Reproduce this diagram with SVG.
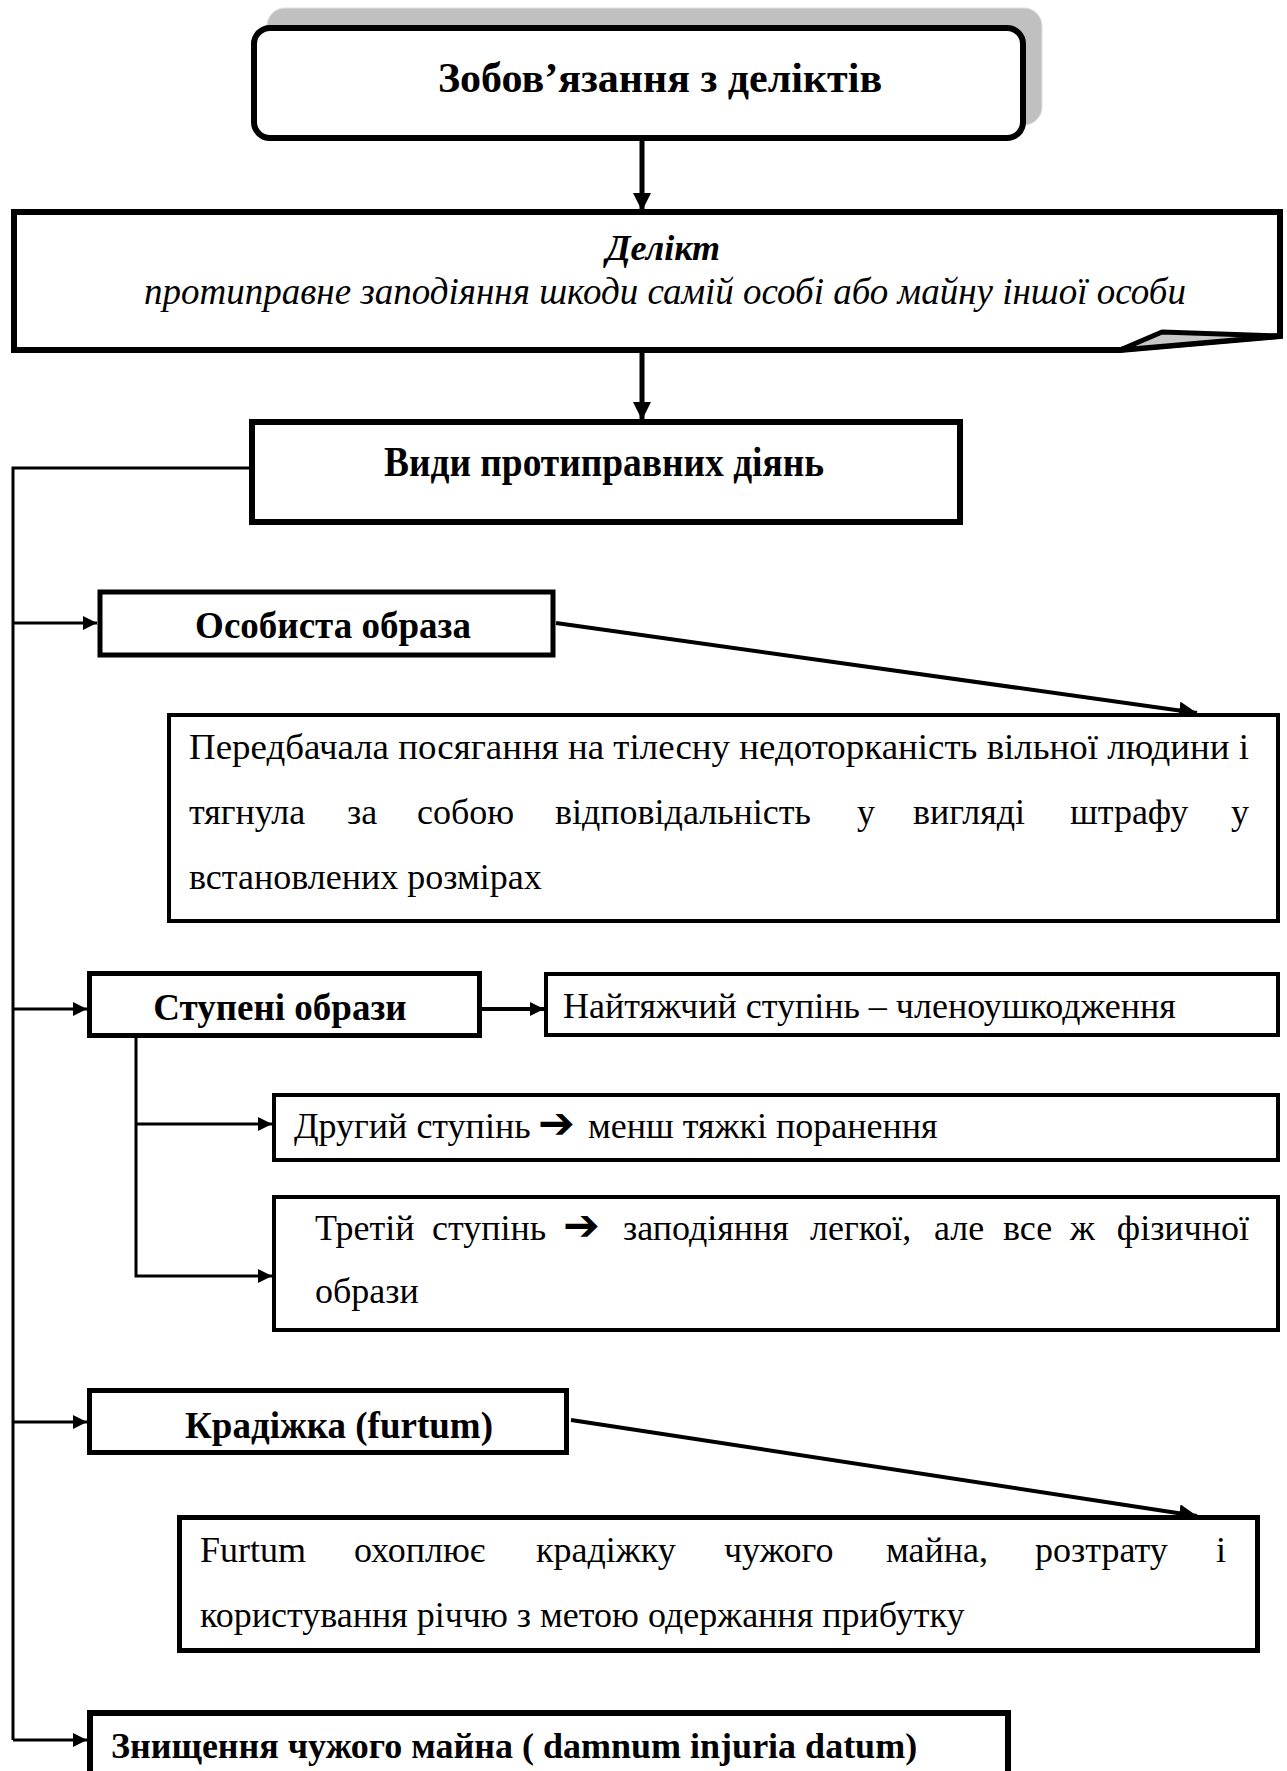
<svg xmlns="http://www.w3.org/2000/svg" width="1287" height="1771" viewBox="0 0 1287 1771">
<style>
text{font-family:"Liberation Serif","Times New Roman",serif;fill:#000}
.b{font-weight:bold}
.i{font-style:italic}
.t36{font-size:36px}
.t37{font-size:37px}
.t42{font-size:42px}
.box{fill:#fff;stroke:#000}
.ln{fill:none;stroke:#000;stroke-width:3}
.ar{font-family:"DejaVu Sans",sans-serif;font-weight:bold;font-size:44px}
</style>
<defs>
<marker id="ah" markerUnits="userSpaceOnUse" viewBox="0 0 14 14" refX="14" refY="7" markerWidth="14" markerHeight="14" orient="auto">
<path d="M0,0 L14,7 L0,14 Z" fill="#000"/>
</marker>
<marker id="ahb" markerUnits="userSpaceOnUse" viewBox="0 0 18 18" refX="18" refY="9" markerWidth="18" markerHeight="18" orient="auto">
<path d="M0,0 L18,9 L0,18 Z" fill="#000"/>
</marker>
</defs>

<g id="connectors">
<line x1="642" y1="140" x2="642" y2="211" stroke="#000" stroke-width="5" marker-end="url(#ahb)"/>
<line x1="642" y1="352" x2="642" y2="420" stroke="#000" stroke-width="5" marker-end="url(#ahb)"/>
<path class="ln" d="M251,468 H13 V1740"/>
<line class="ln" x1="13" y1="623" x2="97" y2="623" marker-end="url(#ah)"/>
<line class="ln" x1="13" y1="1009" x2="87" y2="1009" marker-end="url(#ah)"/>
<line class="ln" x1="13" y1="1422" x2="87" y2="1422" marker-end="url(#ah)"/>
<line class="ln" x1="13" y1="1740" x2="87" y2="1740" marker-end="url(#ah)"/>
<line x1="482" y1="1009" x2="544" y2="1009" stroke="#000" stroke-width="4" marker-end="url(#ah)"/>
<path class="ln" d="M136,1037 V1276 H272" marker-end="url(#ah)"/>
<line class="ln" x1="136" y1="1124" x2="272" y2="1124" marker-end="url(#ah)"/>
<line x1="556" y1="623" x2="1197" y2="713" stroke="#000" stroke-width="4" marker-end="url(#ahb)"/>
<line x1="571" y1="1420" x2="1197" y2="1516" stroke="#000" stroke-width="4" marker-end="url(#ahb)"/>
</g>

<g id="node-title">
<rect x="267" y="8" width="775" height="117" rx="18" fill="#c0c0c0" stroke="#e0e0e0" stroke-width="1"/>
<rect class="box" x="254" y="28" width="769" height="110" rx="16" stroke-width="6"/>
<text class="b t42" x="660" y="92" text-anchor="middle">Зобов’язання з деліктів</text>
</g>

<g id="node-delict">
<path class="box" d="M14,212 H1280 V336 L1120,350 H14 Z" stroke-width="6" stroke-linejoin="miter"/>
<path d="M1120,350 L1162,332 L1280,336 Z" fill="#c8c8c8" stroke="#000" stroke-width="5" stroke-linejoin="round"/>
<text class="b i t36" x="663" y="260" text-anchor="middle">Делікт</text>
<text class="i t37" x="665" y="304" text-anchor="middle">протиправне заподіяння шкоди самій особі або майну іншої особи</text>
</g>

<g id="node-types">
<rect class="box" x="252" y="422" width="708" height="100" stroke-width="6"/>
<text class="b t42" x="384" y="476" textLength="440" lengthAdjust="spacingAndGlyphs">Види  протиправних діянь</text>
</g>

<g id="node-personal">
<rect class="box" x="100" y="592" width="453" height="63" stroke-width="5"/>
<text class="b t37" x="333" y="638" text-anchor="middle">Особиста образа</text>
</g>

<g id="node-personal-desc">
<rect class="box" x="169" y="715" width="1109" height="206" stroke-width="4"/>
<text class="t36" x="189" y="759" textLength="1060" lengthAdjust="spacingAndGlyphs">Передбачала посягання на тілесну недоторканість вільної людини і</text>
<text class="t36" y="824"><tspan x="189">тягнула</tspan><tspan x="347">за</tspan><tspan x="417">собою</tspan><tspan x="555">відповідальність</tspan><tspan x="857">у</tspan><tspan x="913">вигляді</tspan><tspan x="1070">штрафу</tspan><tspan x="1249" text-anchor="end">у</tspan></text>
<text class="t36" x="189" y="889">встановлених розмірах</text>
</g>

<g id="node-degrees">
<rect class="box" x="89.5" y="973.5" width="390" height="62" stroke-width="5"/>
<text class="b t37" x="280" y="1020" text-anchor="middle">Ступені образи</text>
</g>

<g id="node-degree1">
<rect class="box" x="546" y="974" width="732" height="61" stroke-width="4"/>
<text class="t36" x="563" y="1018">Найтяжчий ступінь – членоушкодження</text>
</g>

<g id="node-degree2">
<rect class="box" x="274" y="1095" width="1004" height="65" stroke-width="4"/>
<text class="t36" y="1138"><tspan x="294">Другий ступінь</tspan><tspan x="538" class="ar">➔</tspan><tspan x="588">менш тяжкі поранення</tspan></text>
</g>

<g id="node-degree3">
<rect class="box" x="274" y="1197" width="1004" height="133" stroke-width="4"/>
<text class="t36" y="1240"><tspan x="315">Третій</tspan><tspan x="432">ступінь</tspan><tspan x="563" class="ar">➔</tspan><tspan x="623">заподіяння</tspan><tspan x="810">легкої,</tspan><tspan x="934">але</tspan><tspan x="1003">все</tspan><tspan x="1070">ж</tspan><tspan x="1249" text-anchor="end">фізичної</tspan></text>
<text class="t36" x="315" y="1303">образи</text>
</g>

<g id="node-theft">
<rect class="box" x="89.5" y="1390.5" width="477" height="62" stroke-width="5"/>
<text class="b t37" x="339" y="1438" text-anchor="middle">Крадіжка (furtum)</text>
</g>

<g id="node-theft-desc">
<rect class="box" x="179.5" y="1517.5" width="1078" height="133" stroke-width="5"/>
<text class="t36" y="1562"><tspan x="200">Furtum</tspan><tspan x="354">охоплює</tspan><tspan x="536">крадіжку</tspan><tspan x="724">чужого</tspan><tspan x="886">майна,</tspan><tspan x="1035">розтрату</tspan><tspan x="1226" text-anchor="end">і</tspan></text>
<text class="t36" x="200" y="1627">користування річчю з метою одержання прибутку</text>
</g>

<g id="node-damage">
<rect class="box" x="90" y="1713" width="918" height="80" stroke-width="6"/>
<text class="b t36" x="111" y="1758">Знищення чужого майна ( damnum injuria datum)</text>
</g>
</svg>
